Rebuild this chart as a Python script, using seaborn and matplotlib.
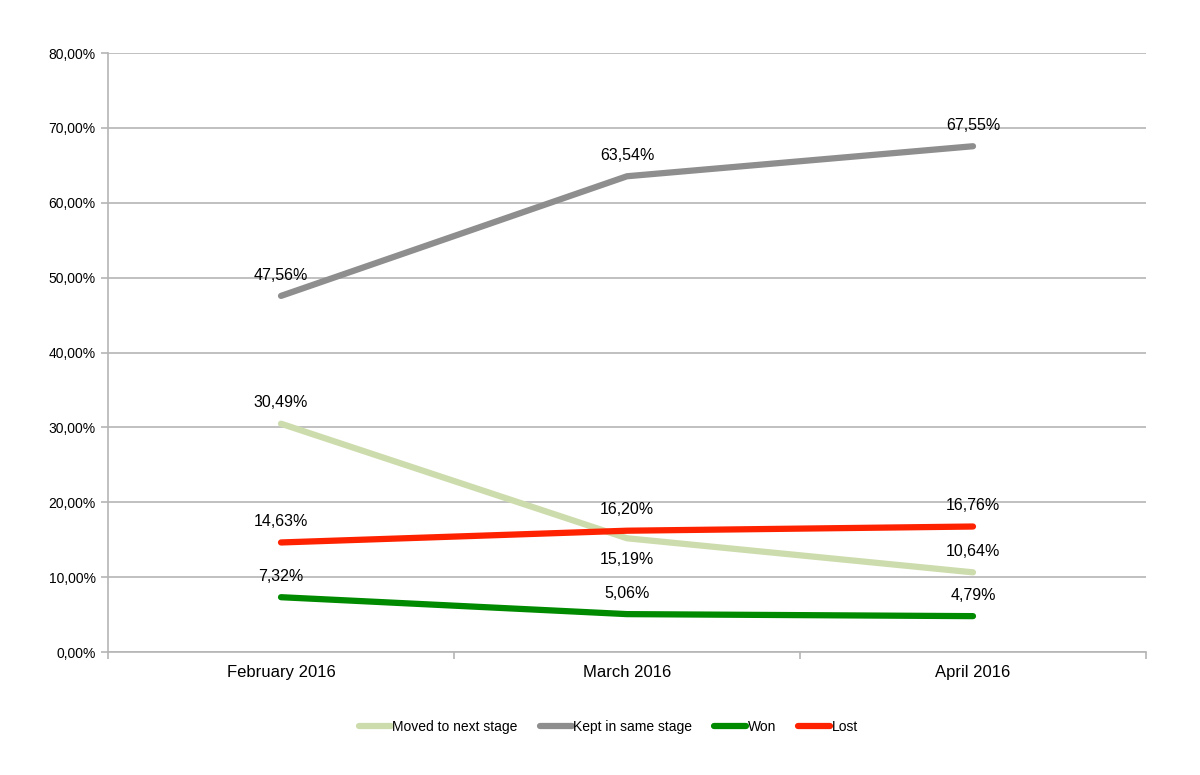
import numpy as np
import pandas as pd
import seaborn as sns
import matplotlib.pyplot as plt
from matplotlib.ticker import FuncFormatter, FixedLocator

# Datos
meses = ['February 2016', 'March 2016', 'April 2016']
series = ['Moved to next stage', 'Kept in same stage', 'Won', 'Lost']
moved = [30.49, 15.19, 10.64]
kept = [47.56, 63.54, 67.55]
won = [7.32, 5.06, 4.79]
lost = [14.63, 16.20, 16.76]
colores = ['#cddcac', '#8e8e8e', '#008a00', '#ff2200']

df = pd.DataFrame({
    'Mes': meses * 4,
    'Serie': np.repeat(series, 3),
    'Valor': moved + kept + won + lost,
})

sns.set_style("white")
plt.rcParams['font.family'] = ['Liberation Sans', 'DejaVu Sans']
plt.rcParams['text.color'] = 'black'
plt.rcParams['xtick.color'] = 'black'
plt.rcParams['ytick.color'] = 'black'

fig = plt.figure(figsize=(12, 7.75), dpi=100)
ax = fig.add_axes([0.09, 0.1587, 0.865, 0.7729])

sns.lineplot(data=df, x='Mes', y='Valor', hue='Serie', palette=colores,
             linewidth=4.5, ax=ax, sort=False, solid_capstyle='round')

ax.set_xlim(-0.5, 2.5)
ax.set_ylim(0, 80)
ax.set_yticks(range(0, 81, 10))
ax.yaxis.set_major_formatter(FuncFormatter(lambda y, _: '{:.2f}%'.format(y).replace('.', ',')))
ax.yaxis.grid(True, color='#b5b5b5', linewidth=1.2)
ax.set_axisbelow(True)
ax.set_xlabel('')
ax.set_ylabel('')

for s in ['top', 'right']:
    ax.spines[s].set_visible(False)
for s in ['left', 'bottom']:
    ax.spines[s].set_color('#b5b5b5')
    ax.spines[s].set_linewidth(1.2)

ax.tick_params(which='both', bottom=True, left=True)
ax.tick_params(axis='x', which='major', length=0, labelsize=12, pad=9)
ax.xaxis.set_minor_locator(FixedLocator([-0.5, 0.5, 1.5, 2.5]))
ax.tick_params(axis='x', which='minor', length=5, color='#b5b5b5', width=1.2)
ax.tick_params(axis='y', length=5, color='#b5b5b5', labelcolor='black', width=1.2,
               labelsize=10, pad=4)

# Etiquetas de datos
for vals in [moved, kept, won, lost]:
    for i, v in enumerate(vals):
        dy = 15
        if vals is moved and i == 1:
            dy = -15
        ax.annotate('{:.2f}%'.format(v).replace('.', ','), (i, v),
                    xytext=(0, dy), textcoords='offset points',
                    ha='center', va='center', fontsize=11.5, color='black')

ax.legend(loc='center', bbox_to_anchor=(0.482, -0.125), ncol=4, frameon=False,
          fontsize=10, handlelength=2.3, handletextpad=0.1, columnspacing=1.6)

plt.savefig('out.png', dpi=100)
